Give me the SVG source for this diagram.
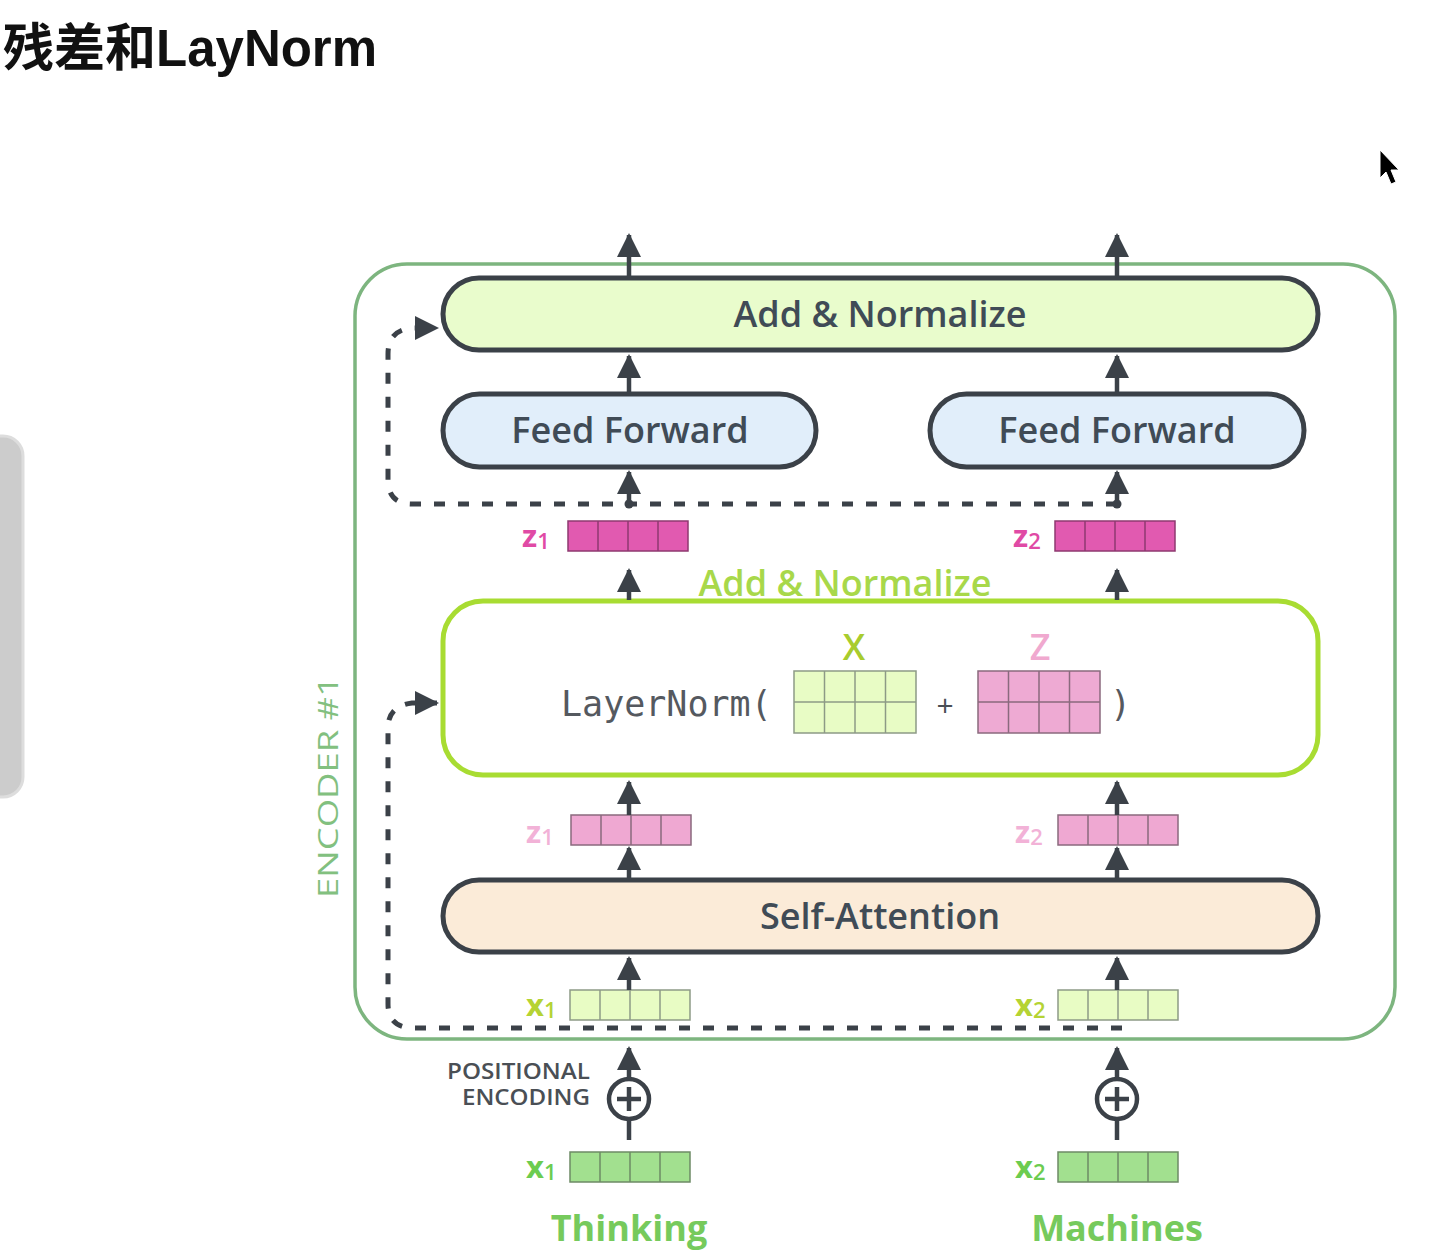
<svg xmlns="http://www.w3.org/2000/svg" width="1440" height="1253" viewBox="0 0 1440 1253">
<style>
.box{stroke:#3b4148;stroke-width:5}
.lbl{font-family:"Open Sans","Liberation Sans",sans-serif;font-size:36px;font-weight:600;fill:#404b56;text-anchor:middle}
.conn{stroke:#3b4148;stroke-width:4.5;fill:none}
.dash{stroke:#3b4148;stroke-width:5;fill:none;stroke-dasharray:11 13}
.vlab{font-family:"Open Sans","Liberation Sans",sans-serif;font-weight:bold;font-size:31px}
.sub{font-weight:600;font-size:22px}
.cell{stroke-width:1.5}
.mono{font-family:"DejaVu Sans Mono","Liberation Mono",monospace;font-size:35px;fill:#55595f}
</style>
<defs>
<marker id="ah" markerUnits="userSpaceOnUse" viewBox="0 0 24 24" markerWidth="24" markerHeight="24" refX="22" refY="12" orient="auto">
<path d="M0 0 L24 12 L0 24 z" fill="#3b4148"/>
</marker>
<g id="vec4">
<rect x="0" y="0" width="120" height="30"/>
<path d="M30 0V30M60 0V30M90 0V30" fill="none"/>
</g>
<g id="mat">
<rect x="0" y="0" width="122" height="62"/>
<path d="M30.5 0V62M61 0V62M91.5 0V62M0 31H122" fill="none"/>
</g>
</defs>
<rect width="1440" height="1253" fill="#ffffff"/>
<g id="title"><text x="3" y="66" font-family="'Liberation Sans','Noto Sans CJK SC',sans-serif" font-weight="bold" font-size="51" fill="#111">残差和LayNorm</text></g>
<g id="side-bar"><rect x="-20" y="436" width="43" height="361" rx="20" fill="#cccccc" stroke="#dddddd" stroke-width="3"/></g>
<g id="cursor"><path d="M1380 150 L1380 178 L1386 172 L1391 184 L1396 182 L1391 170 L1399 170 Z" fill="#000" stroke="#fff" stroke-width="1"/></g>
<g id="encoder">
<rect x="355" y="264" width="1040" height="775" rx="52" fill="none" stroke="#7db57f" stroke-width="3.5"/>
<text transform="translate(338 898) rotate(-90)" font-family="'Open Sans','Liberation Sans',sans-serif" font-size="28" fill="#82c07f" textLength="222" lengthAdjust="spacingAndGlyphs">ENCODER #1</text>
</g>
<g id="add-norm-top">
<rect class="box" x="443" y="278" width="875" height="72" rx="36" fill="#e9fccc"/>
<text class="lbl" x="880" y="327">Add &amp; Normalize</text>
</g>
<g id="ff1">
<rect class="box" x="443" y="394" width="373" height="73" rx="36.5" fill="#e1eefa"/>
<text class="lbl" x="630" y="443">Feed Forward</text>
</g>
<g id="ff2">
<rect class="box" x="930" y="394" width="374" height="73" rx="36.5" fill="#e1eefa"/>
<text class="lbl" x="1117" y="443">Feed Forward</text>
</g>
<g id="z1-out">
<use href="#vec4" x="568" y="521" fill="#e15ab0" stroke="#8e3a70" class="cell"/>
<text class="vlab" x="522" y="547" fill="#e04aa5">z<tspan class="sub" dy="2">1</tspan></text>
</g>
<g id="z2-out">
<use href="#vec4" x="1055" y="521" fill="#e15ab0" stroke="#8e3a70" class="cell"/>
<text class="vlab" x="1013" y="547" fill="#e04aa5">z<tspan class="sub" dy="2">2</tspan></text>
</g>
<g id="add-norm-label"><text x="845" y="596" text-anchor="middle" font-family="'Open Sans','Liberation Sans',sans-serif" font-size="36" font-weight="600" fill="#a8d84a">Add &amp; Normalize</text></g>
<g id="layernorm">
<rect x="443" y="601" width="875" height="174" rx="40" fill="#ffffff" stroke="#a8dc32" stroke-width="5"/>
<text class="mono" x="561" y="716">LayerNorm(</text>
<use href="#mat" x="794" y="671" fill="#e8fcc5" stroke="#8d9a86" class="cell"/>
<text x="854" y="660" text-anchor="middle" font-family="'Open Sans','Liberation Sans',sans-serif" font-size="36" font-weight="600" fill="#a8cc2e">X</text>
<text x="945" y="716" text-anchor="middle" font-family="'Open Sans','Liberation Sans',sans-serif" font-size="30" fill="#4a4f55">+</text>
<use href="#mat" x="978" y="671" fill="#eeaad3" stroke="#8a6a7e" class="cell"/>
<text x="1040" y="660" text-anchor="middle" font-family="'Open Sans','Liberation Sans',sans-serif" font-size="36" font-weight="600" fill="#f0a9cf">Z</text>
<text class="mono" x="1110" y="716">)</text>
</g>
<g id="z1-mid">
<use href="#vec4" x="571" y="815" fill="#efa8d2" stroke="#8a6a7e" class="cell"/>
<text class="vlab" x="526" y="843" fill="#f2b2d7">z<tspan class="sub" dy="2">1</tspan></text>
</g>
<g id="z2-mid">
<use href="#vec4" x="1058" y="815" fill="#efa8d2" stroke="#8a6a7e" class="cell"/>
<text class="vlab" x="1015" y="843" fill="#f2b2d7">z<tspan class="sub" dy="2">2</tspan></text>
</g>
<g id="self-attention">
<rect class="box" x="443" y="880" width="875" height="72" rx="36" fill="#fbebd8"/>
<text class="lbl" x="880" y="929">Self-Attention</text>
</g>
<g id="x1-in">
<use href="#vec4" x="570" y="990" fill="#e8fcc4" stroke="#8d9a86" class="cell"/>
<text class="vlab" x="526" y="1016" fill="#b5d334">x<tspan class="sub" dy="2">1</tspan></text>
</g>
<g id="x2-in">
<use href="#vec4" x="1058" y="990" fill="#e8fcc4" stroke="#8d9a86" class="cell"/>
<text class="vlab" x="1015" y="1016" fill="#b5d334">x<tspan class="sub" dy="2">2</tspan></text>
</g>
<g id="pos-enc-label">
<text x="590" y="1079" text-anchor="end" font-family="'Open Sans','Liberation Sans',sans-serif" font-size="21" font-weight="600" fill="#4a4f55" textLength="143" lengthAdjust="spacingAndGlyphs">POSITIONAL</text>
<text x="590" y="1105" text-anchor="end" font-family="'Open Sans','Liberation Sans',sans-serif" font-size="21" font-weight="600" fill="#4a4f55" textLength="128" lengthAdjust="spacingAndGlyphs">ENCODING</text>
</g>
<g id="pe1">
<circle cx="629" cy="1099" r="20" fill="#fff" stroke="#3b4148" stroke-width="4.5"/>
<path d="M617 1099H641M629 1087V1111" stroke="#3b4148" stroke-width="4.5"/>
</g>
<g id="pe2">
<circle cx="1117" cy="1099" r="20" fill="#fff" stroke="#3b4148" stroke-width="4.5"/>
<path d="M1105 1099H1129M1117 1087V1111" stroke="#3b4148" stroke-width="4.5"/>
</g>
<g id="x1-embed">
<use href="#vec4" x="570" y="1152" fill="#a2e08f" stroke="#6d8a66" class="cell"/>
<text class="vlab" x="526" y="1178" fill="#6ccc50">x<tspan class="sub" dy="2">1</tspan></text>
<text x="629" y="1241" text-anchor="middle" font-family="'Open Sans','Liberation Sans',sans-serif" font-weight="bold" font-size="36" fill="#76ca5c">Thinking</text>
</g>
<g id="x2-embed">
<use href="#vec4" x="1058" y="1152" fill="#a2e08f" stroke="#6d8a66" class="cell"/>
<text class="vlab" x="1015" y="1178" fill="#6ccc50">x<tspan class="sub" dy="2">2</tspan></text>
<text x="1117" y="1241" text-anchor="middle" font-family="'Open Sans','Liberation Sans',sans-serif" font-weight="bold" font-size="36" fill="#76ca5c">Machines</text>
</g>
<g id="connectors">
<path class="conn" d="M629 278V235" marker-end="url(#ah)"/>
<path class="conn" d="M1117 278V235" marker-end="url(#ah)"/>
<path class="conn" d="M629 394V356" marker-end="url(#ah)"/>
<path class="conn" d="M1117 394V356" marker-end="url(#ah)"/>
<path class="conn" d="M629 504V472" marker-end="url(#ah)"/>
<path class="conn" d="M1117 504V472" marker-end="url(#ah)"/>
<path class="conn" d="M629 600V570" marker-end="url(#ah)"/>
<path class="conn" d="M1117 600V570" marker-end="url(#ah)"/>
<path class="conn" d="M629 815V782" marker-end="url(#ah)"/>
<path class="conn" d="M1117 815V782" marker-end="url(#ah)"/>
<path class="conn" d="M629 880V848" marker-end="url(#ah)"/>
<path class="conn" d="M1117 880V848" marker-end="url(#ah)"/>
<path class="conn" d="M629 990V958" marker-end="url(#ah)"/>
<path class="conn" d="M1117 990V958" marker-end="url(#ah)"/>
<path class="conn" d="M629 1079V1048" marker-end="url(#ah)"/>
<path class="conn" d="M1117 1079V1048" marker-end="url(#ah)"/>
<path class="conn" d="M629 1119V1140"/>
<path class="conn" d="M1117 1119V1140"/>
<path class="dash" d="M1117 504H412Q388 504 388 480V354Q388 330 412 328L437 328" marker-end="url(#ah)"/>
<path class="dash" d="M1122 1028H414Q388 1028 388 1004V728Q388 706 412 703L437 703" marker-end="url(#ah)"/>
<circle cx="629" cy="504" r="4.5" fill="#3b4148"/>
<circle cx="1117" cy="504" r="4.5" fill="#3b4148"/>
</g>
</svg>
